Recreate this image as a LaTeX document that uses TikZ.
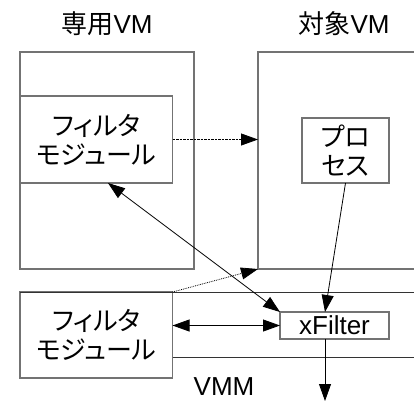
\documentclass[tikz,border=0pt]{standalone}
\usepackage{fontspec}
\setmainfont{Liberation Sans}
\newfontfamily\jp[RawFeature=+palt]{Noto Sans CJK JP}
\usetikzlibrary{arrows.meta}
\usetikzlibrary{positioning}

\tikzset{
  vmbox/.style={draw=black!55, line width=1.2pt, inner sep=0pt, outer sep=0pt},
  modbox/.style={vmbox, align=center, font=\fontsize{26}{29}\selectfont},
  link/.style={line width=0.8pt, ->},
}

\begin{document}
\begin{tikzpicture}[x=1pt, y=-1pt, >={Triangle[length=17pt,width=12pt]}, font=\fontsize{26}{29}\selectfont]
\useasboundingbox (0,0) rectangle (414,400);
\node (t1) at (107,24) {{\jp 専用}VM};
\node (t2) at (344,24) {{\jp 対象}VM};
\node[vmbox, minimum width=174pt, minimum height=217pt] (dedvm) at (107,160.5) {};
\node[vmbox, minimum width=162pt, minimum height=217pt] (tgtvm) at (339,160.5) {};
\node[modbox, minimum width=152.5pt, minimum height=87pt] (lmod) at (96.25,139.5) {\jp フィルタ\\\jp モジュール};
\node[modbox, minimum width=87pt, minimum height=65pt] (proc) at (345.5,150.5) {\jp プロ\\\jp セス};
\node[modbox, minimum width=152.5pt, minimum height=86pt] (vmod) at (96.25,335) {\jp フィルタ\\\jp モジュール};
\node[modbox, minimum width=109pt, minimum height=27pt] (xfil) at (334.5,325.5) {xFilter};
\node (vmm) at (224,387) {VMM};
\coordinate (out) at (325,401);
\draw[line width=0.9pt, black!80] (vmod.north west) -- (420,292);
\draw[line width=0.9pt, black!80] (vmod.east |- 0,357) -- (420,357);
\draw[link, dash pattern=on 2.5pt off 1pt] (lmod.east) -- (lmod.east -| tgtvm.west);
\draw[link, <->] (lmod.south -| 108,0) -- (xfil.north west);
\draw[link] (proc.south) -- (xfil.north -| out);
\draw[link, densely dotted] (vmod.north east) -- (tgtvm.south west);
\draw[link, <->] (vmod.east |- xfil.west) -- (xfil.west);
\draw[link] (xfil.south -| out) -- (out);
\end{tikzpicture}
\end{document}
